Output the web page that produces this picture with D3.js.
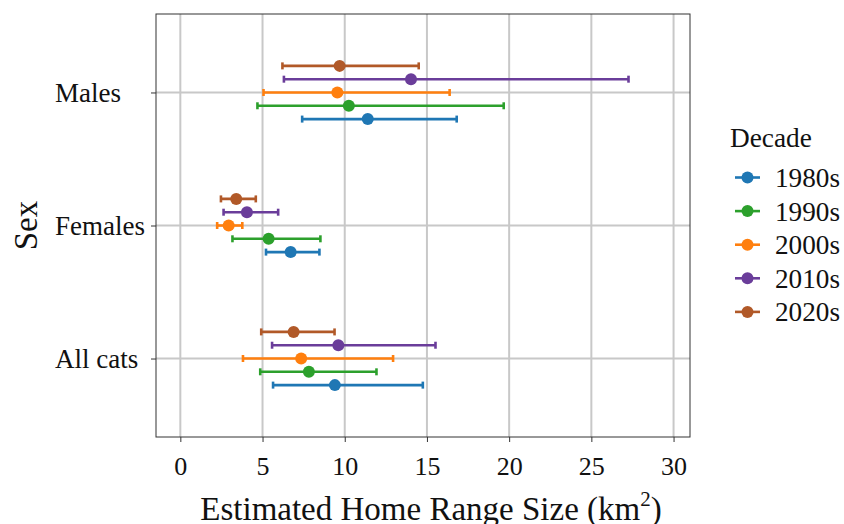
<!DOCTYPE html>
<html><head><meta charset="utf-8">
<script src="https://cdn.jsdelivr.net/npm/d3@7"></script>
<style>body{margin:0;background:#fff}svg{display:block}text{font-family:"Liberation Serif","Times New Roman",serif;fill:#111}</style>
</head><body><svg id="c" width="844" height="524"></svg>
<script>
const categories = ["Males", "Females", "All cats"];
const decades = ["1980s", "1990s", "2000s", "2010s", "2020s"];
const colors = ["#1f77b4", "#2ca02c", "#ff7f0e", "#6a3d9a", "#b15928"];
// [low, estimate, high] per decade, per category
const males   = [[7.41, 11.40, 16.81], [4.69, 10.25, 19.67], [5.06, 9.55, 16.38], [6.30, 14.03, 27.26], [6.21, 9.69, 14.50]];
const females = [[5.21, 6.71, 8.46], [3.17, 5.37, 8.52], [2.24, 2.94, 3.77], [2.63, 4.05, 5.95], [2.47, 3.40, 4.59]];
const allCats = [[5.64, 9.40, 14.75], [4.86, 7.82, 11.93], [3.81, 7.35, 12.94], [5.58, 9.61, 15.52], [4.92, 6.89, 9.38]];
const xTicks = [0, 5, 10, 15, 20, 25, 30];

const groups = {"Males": males, "Females": females, "All cats": allCats};
const rows = [];
categories.forEach(c => groups[c].forEach((v, i) => rows.push({cat: c, dec: decades[i], lo: v[0], est: v[1], hi: v[2]})));

const svg = d3.select("#c");
const L = 156, R = 690, T = 14, B = 437;
const x = d3.scaleLinear().domain([-1.48, 31.0]).range([L, R]);
const y = d3.scalePoint().domain(categories).range([T, B]).padding(0.59);
const dodge = d3.scalePoint().domain(decades.slice().reverse()).range([-26.6, 26.6]);
const col = d3.scaleOrdinal().domain(decades).range(colors);

// grid
const g = svg.append("g");
g.selectAll(".vx").data(xTicks).join("line").attr("x1", d => x(d)).attr("x2", d => x(d)).attr("y1", T).attr("y2", B).attr("stroke", "#c8c8c8").attr("stroke-width", 2);
g.selectAll(".hy").data(categories).join("line").attr("x1", L).attr("x2", R).attr("y1", d => y(d)).attr("y2", d => y(d)).attr("stroke", "#c8c8c8").attr("stroke-width", 2);

// axes
const xa = svg.append("g").attr("transform", `translate(0,${B})`).call(d3.axisBottom(x).tickValues(xTicks).tickSize(5).tickPadding(0));
const ya = svg.append("g").attr("transform", `translate(${L},0)`).call(d3.axisLeft(y).tickSize(5).tickPadding(0));
[xa, ya].forEach(a => { a.select(".domain").remove(); a.selectAll(".tick line").attr("stroke", "#333").attr("stroke-width", 1); });
xa.selectAll("text").style("font-size", "26px").attr("fill", "#111").attr("dy", null).attr("y", 38);
ya.selectAll("text").style("font-size", "27px").attr("fill", "#111").attr("text-anchor", "start").attr("x", 55 - L).attr("dy", "0.33em");

// panel border
svg.append("rect").attr("x", L).attr("y", T).attr("width", R - L).attr("height", B - T).attr("fill", "none").attr("stroke", "#333").attr("stroke-width", 1);

// error bars
const yy = d => y(d.cat) + dodge(d.dec);
const m = svg.append("g");
const eb = m.selectAll("g.eb").data(rows).join("g").attr("stroke", d => col(d.dec)).attr("stroke-width", 2.6);
eb.append("line").attr("x1", d => x(d.lo)).attr("x2", d => x(d.hi)).attr("y1", yy).attr("y2", yy);
eb.append("line").attr("x1", d => x(d.lo)).attr("x2", d => x(d.lo)).attr("y1", d => yy(d) - 3.5).attr("y2", d => yy(d) + 3.5);
eb.append("line").attr("x1", d => x(d.hi)).attr("x2", d => x(d.hi)).attr("y1", d => yy(d) - 3.5).attr("y2", d => yy(d) + 3.5);
m.selectAll("circle").data(rows).join("circle").attr("cx", d => x(d.est)).attr("cy", yy).attr("r", 6).attr("fill", d => col(d.dec));

// axis titles
const xt = svg.append("text").attr("x", 431).attr("y", 520).attr("text-anchor", "middle").style("font-size", "33px");
xt.append("tspan").text("Estimated Home Range Size (km");
xt.append("tspan").text("2").style("font-size", "21px").attr("dy", -14);
xt.append("tspan").text(")").attr("dy", 14);
svg.append("text").attr("transform", `translate(37,${(T + B) / 2}) rotate(-90)`).attr("text-anchor", "middle").style("font-size", "33px").text("Sex");

// legend
const lg = svg.append("g").attr("transform", "translate(730,0)");
lg.append("text").attr("x", 0).attr("y", 147).style("font-size", "27.3px").text("Decade");
const li = lg.selectAll("g.li").data(decades).join("g").attr("transform", (d, i) => `translate(0,${177.5 + i * 33.6})`);
li.append("line").attr("x1", 5).attr("x2", 30).attr("stroke", d => col(d)).attr("stroke-width", 2.6);
li.append("circle").attr("cx", 17.5).attr("r", 6).attr("fill", d => col(d));
li.append("text").attr("x", 45).attr("dy", "0.35em").style("font-size", "27.2px").text(d => d);
</script></body></html>
